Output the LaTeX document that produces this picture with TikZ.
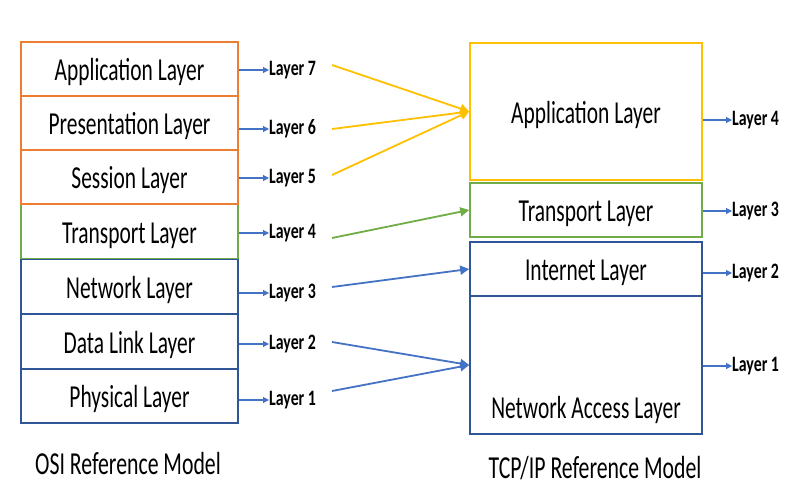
\documentclass[tikz,border=0pt]{standalone}
\usepackage{fontspec}
\setmainfont{Carlito}
\newfontfamily\boxfont[FakeStretch=0.67]{Carlito}
\newfontfamily\labfont[FakeStretch=0.72]{Carlito}
\newfontfamily\capfont[FakeStretch=0.68]{Carlito}
\usetikzlibrary{arrows.meta,calc}
\definecolor{orng}{HTML}{ED7D31}
\definecolor{grn}{HTML}{70AD47}
\definecolor{dblue}{HTML}{2F5597}
\definecolor{ablue}{HTML}{4472C4}
\definecolor{yel}{HTML}{FFC000}
\begin{document}
\begin{tikzpicture}[x=1pt,y=-1pt,
  box/.style={draw, line width=1.6pt, fill=white, inner sep=0pt, text height=28pt, text depth=4.5pt, font=\boxfont\fontsize{32}{38}\selectfont},
  osibox/.style={box, minimum width=217pt, minimum height=54pt},
  tcpbox/.style={box, minimum width=232pt},
  lab/.style={anchor=west, inner sep=0pt, font=\labfont\bfseries\fontsize{22}{26}\selectfont},
  captxt/.style={inner sep=0pt, font=\capfont\fontsize{32}{38}\selectfont},
  smallarr/.style={ablue, line width=1.1pt, -{Triangle[length=6pt,width=6pt]}},
  bigarr/.style={line width=1.8pt, -{Triangle[length=9pt,width=9pt]}}
]
\useasboundingbox (0,0) rectangle (800,500);
\fill[white] (0,0) rectangle (800,500);

% OSI boxes (bottom up)
\node[osibox, draw=dblue] (ph) at (129.5,396) {Physical Layer};
\node[osibox, draw=dblue] (dl) at (129.5,341.5) {Data Link Layer};
\node[osibox, draw=dblue, minimum height=55pt] (net) at (129.5,286.5) {Network Layer};
\node[osibox, draw=grn] (tr) at (129.5,231.5) {Transport Layer};
\node[osibox, draw=orng] (sess) at (129.5,177) {Session Layer};
\node[osibox, draw=orng] (pres) at (129.5,123) {Presentation Layer};
\node[osibox, draw=orng] (app) at (129.5,69) {Application Layer};

% OSI labels
\node[lab] (l7) at (269,70) {Layer 7};
\node[lab] (l6) at (269,129) {Layer 6};
\node[lab] (l5) at (269,178) {Layer 5};
\node[lab] (l4) at (269,233) {Layer 4};
\node[lab] (l3) at (269,293) {Layer 3};
\node[lab] (l2) at (269,344) {Layer 2};
\node[lab] (l1) at (269,400) {Layer 1};

\draw[smallarr] (app.east |- l7.west) -- (l7.west);
\draw[smallarr] (pres.east |- l6.west) -- (l6.west);
\draw[smallarr] (sess.east |- l5.west) -- (l5.west);
\draw[smallarr] (tr.east |- l4.west) -- (l4.west);
\draw[smallarr] (net.east |- l3.west) -- (l3.west);
\draw[smallarr] (dl.east |- l2.west) -- (l2.west);
\draw[smallarr] (ph.east |- l1.west) -- (l1.west);

% TCP/IP boxes
\node[tcpbox, draw=dblue, minimum height=138pt] (tna) at (586,365) {};
\node[box, draw=none, fill=none] (tnatxt) at (586,407) {Network Access Layer};
\node[tcpbox, draw=dblue, minimum height=54pt] (tint) at (586,269) {Internet Layer};
\node[tcpbox, draw=grn, minimum height=54pt] (ttr) at (586,210) {Transport Layer};
\node[tcpbox, draw=yel, minimum height=137pt] (tapp) at (586,111.5) {Application Layer};

% TCP/IP labels
\node[lab] (r4) at (732,120) {Layer 4};
\node[lab] (r3) at (732,211) {Layer 3};
\node[lab] (r2) at (732,273) {Layer 2};
\node[lab] (r1) at (732,366) {Layer 1};

\draw[smallarr] (tapp.east |- r4.west) -- (r4.west);
\draw[smallarr] (ttr.east |- r3.west) -- (r3.west);
\draw[smallarr] (tint.east |- r2.west) -- (r2.west);
\draw[smallarr] (tna.east |- r1.west) -- (r1.west);

% mapping connectors
\coordinate (s7) at (332,65);
\coordinate (s6) at (332,129);
\coordinate (s5) at (332,175);
\coordinate (s4) at (332,238);
\coordinate (s3) at (332,287);
\coordinate (s2) at (332,342);
\coordinate (s1) at (332,391);

\draw[bigarr, yel] (s7) -- (tapp.west);
\draw[bigarr, yel] (s6) -- (tapp.west);
\draw[bigarr, yel] (s5) -- (tapp.west);
\draw[bigarr, grn] (s4) -- (ttr.west);
\draw[bigarr, ablue] (s3) -- (tint.west);
\draw[bigarr, ablue] (s2) -- (tna.west);
\draw[bigarr, ablue] (s1) -- (tna.west);

% captions
\node[captxt] (osicap) at (128,463) {OSI Reference Model};
\node[captxt] (tcpcap) at (595,468) {TCP/IP Reference Model};
\end{tikzpicture}
\end{document}
